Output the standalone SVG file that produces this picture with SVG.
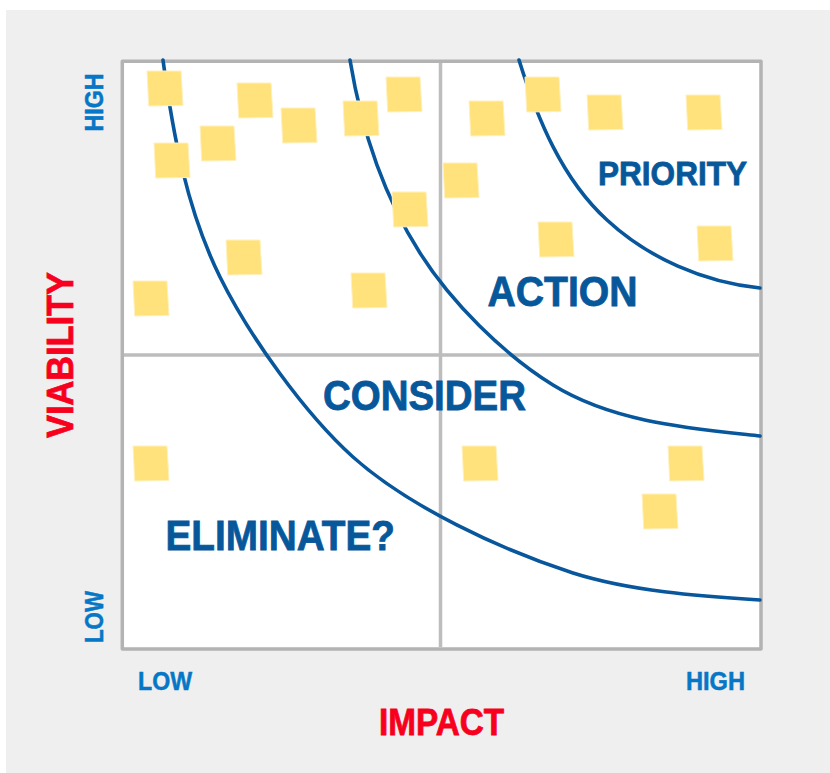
<svg xmlns="http://www.w3.org/2000/svg" width="830" height="773" viewBox="0 0 830 773">
  <style>
    .frame { fill: #ffffff; stroke: #b3b3b3; stroke-width: 3.5; stroke-linejoin: round; }
    .mid { stroke: #bdbdbd; stroke-width: 3.5; fill: none; }
    .curve { fill: none; stroke: #08569b; stroke-width: 3.6; stroke-linecap: round; }
    .note { fill: #ffe27b; stroke: #fff1bd; stroke-width: 1; }
    .zone { font-family: "Liberation Sans", Arial, sans-serif; font-weight: bold; fill: #07579b; stroke: #07579b; stroke-width: 0.8; }
    .tick { font-family: "Liberation Sans", Arial, sans-serif; font-weight: bold; fill: #0677c6; stroke: #0677c6; stroke-width: 0.5; font-size: 25px; }
    .axis { font-family: "Liberation Sans", Arial, sans-serif; font-weight: bold; fill: #f7001e; stroke: #f7001e; stroke-width: 0.8; font-size: 36px; }
  </style>
  <defs>
    <path id="sticky" class="note" d="M0,0 L34,0 L36,34.5 L1.7,35 Z"/>
  </defs>

  <!-- backdrop -->
  <rect x="6" y="10" width="824" height="763" fill="#efefef"/>

  <!-- plot area with quadrant dividers -->
  <g id="grid">
    <rect class="frame" x="122.3" y="61.3" width="638.7" height="587.7"/>
    <line class="mid" x1="440.5" y1="63" x2="440.5" y2="647"/>
    <line class="mid" x1="124" y1="355" x2="759" y2="355"/>
  </g>

  <!-- zone boundaries -->
  <g id="connectors">
    <path class="curve" d="M519,60 C537,118 562,179 607,220 C648,258 704,282.4 760,288"/>
    <path class="curve" d="M350,60 C361,127 383.4,195.7 420,253 C451,302 503,354 553,385 C613.4,422.3 689.4,428.3 760,436"/>
    <path class="curve" d="M163,60 C172.9,134.3 186.8,209.8 220,277 C248.8,335.2 304.6,413.6 353,457 C408.9,507 501.7,550 573,573 C630,591 697.3,596 760,600"/>
  </g>

  <!-- sticky notes -->
  <g id="note-a"><use href="#sticky" x="147" y="71"/></g>
  <g id="note-b"><use href="#sticky" x="237" y="83"/></g>
  <g id="note-c"><use href="#sticky" x="281" y="108"/></g>
  <g id="note-d"><use href="#sticky" x="343" y="101"/></g>
  <g id="note-e"><use href="#sticky" x="386" y="77"/></g>
  <g id="note-f"><use href="#sticky" x="154" y="143"/></g>
  <g id="note-g"><use href="#sticky" x="200" y="126"/></g>
  <g id="note-h"><use href="#sticky" x="392" y="192"/></g>
  <g id="note-i"><use href="#sticky" x="226" y="240"/></g>
  <g id="note-j"><use href="#sticky" x="133" y="281"/></g>
  <g id="note-k"><use href="#sticky" x="351" y="273"/></g>
  <g id="note-l"><use href="#sticky" x="469" y="101"/></g>
  <g id="note-m"><use href="#sticky" x="525" y="77"/></g>
  <g id="note-n"><use href="#sticky" x="587" y="95"/></g>
  <g id="note-o"><use href="#sticky" x="686" y="95"/></g>
  <g id="note-p"><use href="#sticky" x="443" y="163"/></g>
  <g id="note-q"><use href="#sticky" x="538" y="222"/></g>
  <g id="note-r"><use href="#sticky" x="697" y="226"/></g>
  <g id="note-s"><use href="#sticky" x="133" y="446"/></g>
  <g id="note-t"><use href="#sticky" x="462" y="446"/></g>
  <g id="note-u"><use href="#sticky" x="668" y="446"/></g>
  <g id="note-v"><use href="#sticky" x="642" y="494"/></g>

  <!-- zone labels -->
  <g id="zone-priority"><text class="zone" x="598" y="185" font-size="34" textLength="149" lengthAdjust="spacingAndGlyphs">PRIORITY</text></g>
  <g id="zone-action"><text class="zone" x="487.5" y="306" font-size="42" textLength="150" lengthAdjust="spacingAndGlyphs">ACTION</text></g>
  <g id="zone-consider"><text class="zone" x="323" y="410" font-size="42" textLength="203" lengthAdjust="spacingAndGlyphs">CONSIDER</text></g>
  <g id="zone-eliminate"><text class="zone" x="165.5" y="550" font-size="42" textLength="229.5" lengthAdjust="spacingAndGlyphs">ELIMINATE?</text></g>

  <!-- axes -->
  <g id="axis-x">
    <text class="tick" x="138" y="690" textLength="54" lengthAdjust="spacingAndGlyphs">LOW</text>
    <text class="tick" x="686" y="690" textLength="59" lengthAdjust="spacingAndGlyphs">HIGH</text>
    <text class="axis" x="379" y="735" textLength="125" lengthAdjust="spacingAndGlyphs">IMPACT</text>
  </g>
  <g id="axis-y">
    <text class="tick" transform="translate(103,131.5) rotate(-90)" font-size="26" textLength="58" lengthAdjust="spacingAndGlyphs">HIGH</text>
    <text class="tick" transform="translate(103,643) rotate(-90)" font-size="26" textLength="52" lengthAdjust="spacingAndGlyphs">LOW</text>
    <text class="axis" transform="translate(73,438) rotate(-90)" textLength="166" lengthAdjust="spacingAndGlyphs">VIABILITY</text>
  </g>
</svg>
